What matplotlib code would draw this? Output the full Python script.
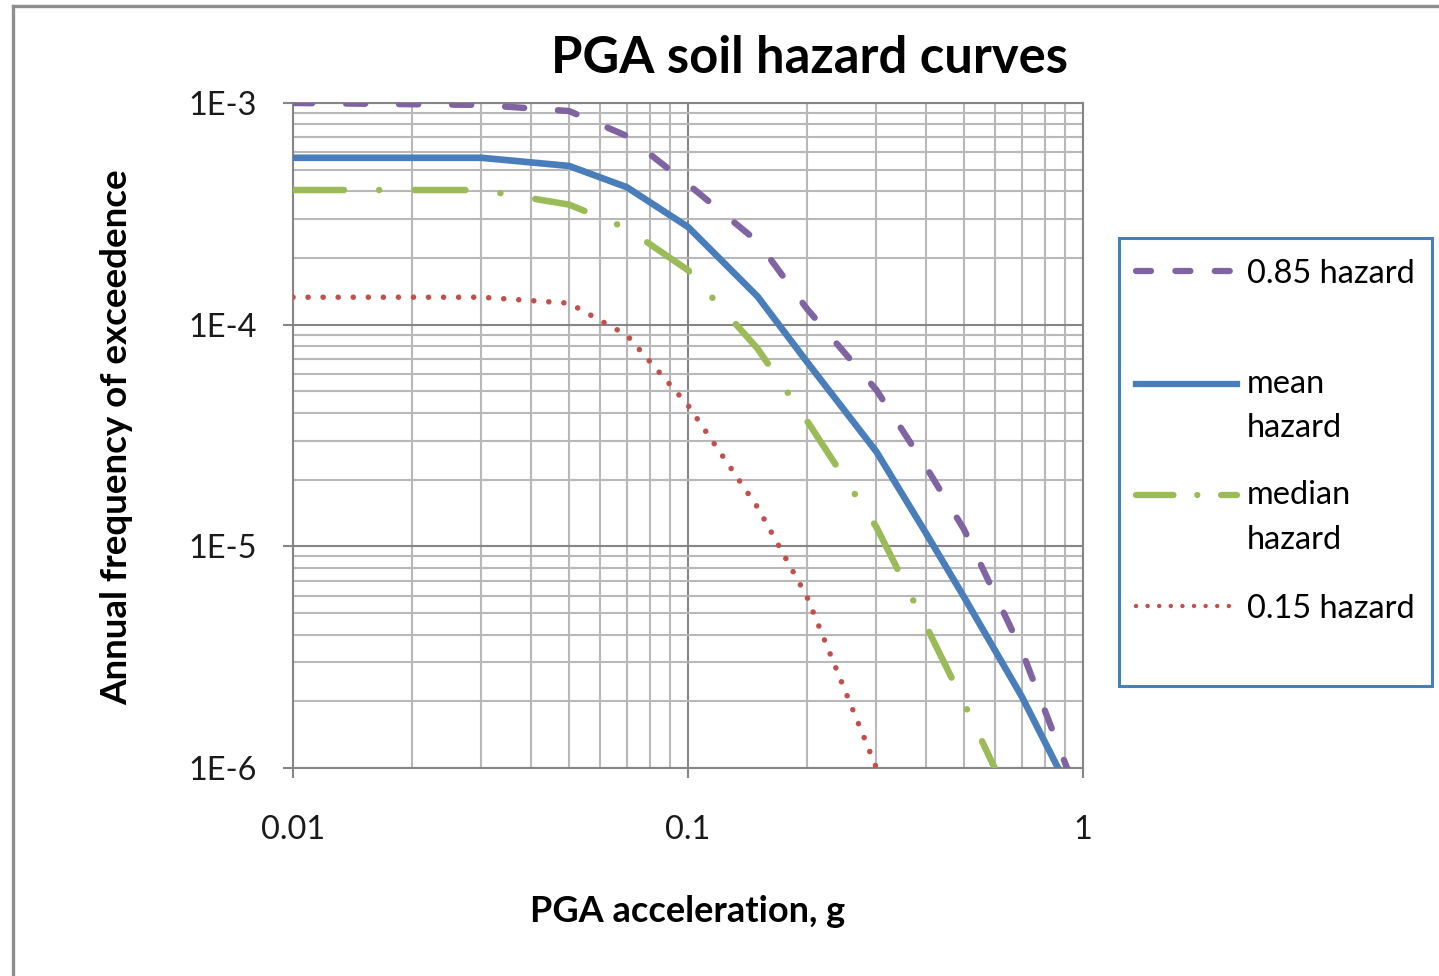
import numpy as np
import matplotlib
matplotlib.use("Agg")
import matplotlib.pyplot as plt
from matplotlib.lines import Line2D
from matplotlib.patches import Rectangle
from matplotlib.ticker import FuncFormatter, LogLocator, NullFormatter, FixedLocator

# ---------------- data ----------------
pga_g = [0.01, 0.03, 0.05, 0.07, 0.1, 0.15, 0.2, 0.3, 0.4, 0.5, 0.7, 1.0]
hazard_085 = [1.0e-3, 9.8e-4, 9.2e-4, 7.1e-4, 4.3e-4, 2.37e-4, 1.18e-4, 5.07e-5,
              2.29e-5, 1.19e-5, 3.38e-6, 6.5e-7]
hazard_mean = [5.66e-4, 5.66e-4, 5.2e-4, 4.17e-4, 2.76e-4, 1.34e-4, 6.8e-5, 2.67e-5,
               1.15e-5, 5.9e-6, 2.1e-6, 6.0e-7]
hazard_median = [4.05e-4, 4.05e-4, 3.48e-4, 2.72e-4, 1.76e-4, 7.8e-5, 3.69e-5, 1.22e-5,
                 4.4e-6, 1.96e-6, 5.5e-7, np.nan]
hazard_015 = [1.33e-4, 1.33e-4, 1.25e-4, 8.97e-5, 4.33e-5, 1.5e-5, 5.93e-6, 1.0e-6,
              np.nan, np.nan, np.nan, np.nan]

legend_lines = [["0.85 hazard"], ["mean", "hazard"], ["median", "hazard"], ["0.15 hazard"]]
y_ticks = [1e-6, 1e-5, 1e-4, 1e-3]
x_ticks = [0.01, 0.1, 1.0]
title = "PGA soil hazard curves"
x_title = "PGA acceleration, g"
y_title = "Annual frequency of exceedence"

# ---------------- styles ----------------
PURPLE = "#8064A2"
BLUE = "#4A7EBB"
GREEN = "#9BBB59"
RED = "#C0504D"
GRID_MAJ = "#868686"
GRID_MIN = "#B8B8B8"
AXIS_C = "#868686"
FONT = "Lato"

styles = [
    dict(color=PURPLE, lw=4.6, linestyle=(0, (3.0, 5.3)), dash_capstyle="round"),
    dict(color=BLUE, lw=4.8, linestyle="-", solid_capstyle="round", solid_joinstyle="round"),
    dict(color=GREEN, lw=4.7, linestyle=(0, (7.8, 5.4, 0.01, 5.4)), dash_capstyle="round"),
    dict(color=RED, lw=4.0, linestyle=(0, (0.01, 2.7)), dash_capstyle="round"),
]
legend_styles = [
    dict(color=PURPLE, lw=4.5, linestyle=(0, (2.4, 3.9)), dash_capstyle="round"),
    dict(color=BLUE, lw=4.5, linestyle="-"),
    dict(color=GREEN, lw=4.5, linestyle=(0, (6.0, 3.8, 0.01, 3.8)), dash_capstyle="round"),
    dict(color=RED, lw=3.2, linestyle=(0, (0.01, 2.6)), dash_capstyle="round"),
]

W, H = 1439, 976
fig = plt.figure(figsize=(W / 100, H / 100), dpi=100)


def fx(x):
    return x / W


def fy(y):
    return 1 - y / H


# outer chart border: left edge and top edge
fig.add_artist(Line2D([fx(13), fx(13)], [fy(H), fy(5.5)],
                      transform=fig.transFigure, color="#8E8E8E", lw=2.4,
                      solid_capstyle="projecting"))
fig.add_artist(Line2D([fx(13), fx(W)], [fy(5.5), fy(5.5)],
                      transform=fig.transFigure, color="#8E8E8E", lw=2.4,
                      solid_capstyle="projecting"))

ax = fig.add_axes([fx(293), fy(768), (1083 - 293) / W, (768 - 103) / H])
ax.set_xscale("log")
ax.set_yscale("log")
ax.set_xlim(0.01, 1.0)
ax.set_ylim(1e-6, 1e-3)

series = [hazard_085, hazard_mean, hazard_median, hazard_015]
for vals, st in zip(series, styles):
    ax.plot(pga_g, vals, zorder=3, **st)

ax.xaxis.set_major_locator(FixedLocator(x_ticks))
ax.yaxis.set_major_locator(FixedLocator(y_ticks))
ax.xaxis.set_minor_locator(LogLocator(base=10, subs=np.arange(2, 10)))
ax.yaxis.set_minor_locator(LogLocator(base=10, subs=np.arange(2, 10)))
ax.xaxis.set_minor_formatter(NullFormatter())
ax.yaxis.set_minor_formatter(NullFormatter())
ax.xaxis.set_major_formatter(FuncFormatter(lambda v, p: f"{v:g}"))
ax.yaxis.set_major_formatter(FuncFormatter(lambda v, p: f"1E{int(round(np.log10(v)))}"))

ax.set_axisbelow(True)
ax.grid(which="minor", color=GRID_MIN, lw=1.5)
ax.grid(which="major", color=GRID_MAJ, lw=1.5)
for s in ["left", "bottom"]:
    ax.spines[s].set_color(AXIS_C)
    ax.spines[s].set_linewidth(1.5)
for s in ["top", "right"]:
    ax.spines[s].set_color(GRID_MAJ)
    ax.spines[s].set_linewidth(1.5)

ax.tick_params(which="major", direction="out", length=7, width=1.5, color=AXIS_C,
               labelsize=23.4, labelcolor="#1a1a1a")
ax.tick_params(axis="y", which="major", pad=19)
ax.tick_params(axis="x", which="major", pad=27)
ax.tick_params(which="minor", length=0)
for lab in ax.get_xticklabels() + ax.get_yticklabels():
    lab.set_fontfamily(FONT)

# titles
fig.text(fx(810), fy(73.4), title, ha="center", va="baseline",
         fontsize=36.5, fontweight="bold", family=FONT, color="black")
fig.text(fx(688), fy(922), x_title, ha="center", va="baseline",
         fontsize=26, fontweight="bold", family=FONT, color="black")
fig.text(fx(117), fy(437), y_title, ha="center", va="center", rotation=90,
         fontsize=26.5, fontweight="bold", family=FONT, color="black")

# legend (manual layout to reproduce wrapped labels)
fig.add_artist(Rectangle((fx(1119), fy(686)), (1432 - 1119) / W, (686 - 238) / H,
                         transform=fig.transFigure, facecolor="white",
                         edgecolor="#4A7EBB", lw=2.2, zorder=5))
sample_y = [271, 384, 495, 606]
sample_x1 = [1237, 1237, 1237, 1230]
baselines = [[283], [393, 437], [504, 549], [618]]
for st, yy, x1, texts, bls in zip(legend_styles, sample_y, sample_x1, legend_lines, baselines):
    fig.add_artist(Line2D([fx(1136), fx(x1)], [fy(yy), fy(yy)],
                          transform=fig.transFigure, zorder=6, **st))
    for t, b in zip(texts, bls):
        fig.text(fx(1247), fy(b), t, ha="left", va="baseline", fontsize=23.4,
                 family=FONT, color="black", zorder=6)

fig.savefig("out.png", dpi=100, facecolor="white")
